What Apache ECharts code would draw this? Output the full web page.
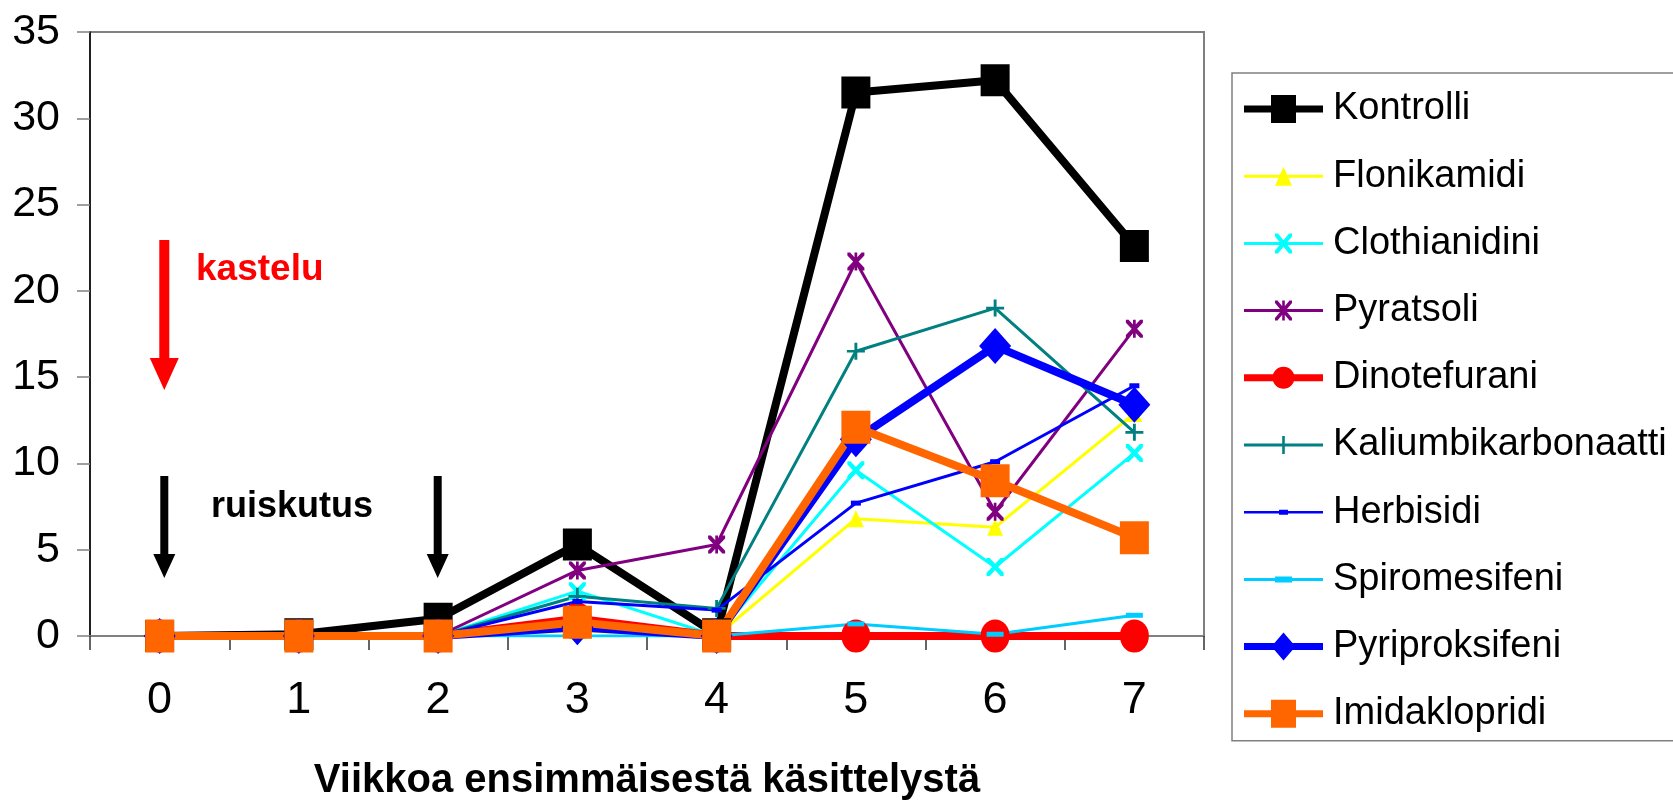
<!DOCTYPE html>
<html>
<head>
<meta charset="utf-8">
<script src="https://cdn.jsdelivr.net/npm/echarts@6/dist/echarts.min.js"></script>
<style>
  html, body { margin: 0; padding: 0; background: #fff; }
  #chart { width: 1673px; height: 800px; }
</style>
</head>
<body>
<div id="chart"></div>
<script>
// viikot ja sarjat
var weeks = ["0", "1", "2", "3", "4", "5", "6", "7"];
var kontrolli      = [0, 0.1, 1.0, 5.3, 0.1, 31.5, 32.2, 22.6];
var flonikamidi    = [0, 0, 0, 0.3, 0, 6.8, 6.3, 12.9];
var clothianidini  = [0, 0, 0, 2.6, 0, 9.6, 4.0, 10.6];
var pyratsoli      = [0, 0, 0, 3.8, 5.3, 21.7, 7.2, 17.8];
var dinotefurani   = [0, 0, 0, 1.0, 0, 0, 0, 0];
var kaliumbikarb   = [0, 0, 0, 2.3, 1.6, 16.5, 19.0, 11.8];
var herbisidi      = [0, 0, 0, 2.0, 1.5, 7.7, 10.1, 14.5];
var spiromesifeni  = [0, 0, 0, 0, 0, 0.7, 0.1, 1.2];
var pyriproksifeni = [0, 0, 0, 0.5, 0, 11.4, 16.8, 13.4];
var imidaklopridi  = [0, 0, 0, 0.8, 0, 12.1, 9.0, 5.7];

var yTicks = { min: 0, max: 35, interval: 5 };

var sans = "'Liberation Sans', Arial, sans-serif";

// apufunktiot merkkien poluille
function rect(x0, y0, x1, y1) {
	return "M" + x0 + "," + y0 + "H" + x1 + "V" + y1 + "H" + x0 + "Z";
}
function xmark(cx, cy, w, h, t) {
	var l = cx - w / 2, r = cx + w / 2, tp = cy - h / 2, b = cy + h / 2;
	return "M" + l + "," + tp + "L" + (l + t) + "," + tp + "L" + r + "," + (b - t) + "L" + r + "," + b +
		"L" + (r - t) + "," + b + "L" + l + "," + (tp + t) + "Z" +
		"M" + r + "," + tp + "L" + r + "," + (tp + t) + "L" + (l + t) + "," + b + "L" + l + "," + b +
		"L" + l + "," + (b - t) + "L" + (r - t) + "," + tp + "Z";
}
function ellipse(cx, cy, rx, ry) {
	return "M" + (cx - rx) + "," + cy + "A" + rx + "," + ry + " 0 1,1 " + (cx + rx) + "," + cy +
		"A" + rx + "," + ry + " 0 1,1 " + (cx - rx) + "," + cy + "Z";
}
function diamond(cx, cy, w, h) {
	return "M" + cx + "," + (cy - h / 2) + "L" + (cx + w / 2) + "," + cy + "L" + cx + "," + (cy + h / 2) +
		"L" + (cx - w / 2) + "," + cy + "Z";
}
function triangle(cx, cy, w, h) {
	return "M" + cx + "," + (cy - h / 2) + "L" + (cx + w / 2) + "," + (cy + h / 2) + "L" + (cx - w / 2) + "," + (cy + h / 2) + "Z";
}
// legendin ikoni: viiva + merkki, kiinteä 79x30 laatikko
var bbox = "M39.5,0L39.6,0L39.5,0.1ZM39.5,30L39.6,30L39.5,29.9Z";
function legendIcon(lw, marker) {
	return "path://" + bbox + rect(0, 15 - lw / 2, 79, 15 + lw / 2) + marker;
}

var symX = "path://" + xmark(5, 5, 10, 10, 1.8);
var symStar = "path://" + xmark(5, 5, 10, 10, 1.6) + rect(4.2, 0, 5.8, 10);
var symPlus = "path://" + rect(4.2, 0, 5.8, 10) + rect(0, 4.2, 10, 5.8);
var symEllipse = "path://" + ellipse(5, 5, 5, 5);

var series_conf = [
	{ name: "Kontrolli", data: kontrolli, color: "#000000", width: 8, symbol: "rect", size: [29, 32],
	  icon: legendIcon(7, rect(27, 1, 52, 29)) },
	{ name: "Flonikamidi", data: flonikamidi, color: "#FFFF00", width: 3, symbol: "triangle", size: [16, 17],
	  icon: legendIcon(3, triangle(39.5, 15, 17, 19)) },
	{ name: "Clothianidini", data: clothianidini, color: "#00FFFF", width: 3, symbol: symX, size: [17, 18],
	  icon: legendIcon(3, xmark(39.5, 15, 17, 20, 3)) },
	{ name: "Pyratsoli", data: pyratsoli, color: "#800080", width: 3, symbol: symStar, size: [17, 18],
	  icon: legendIcon(3, xmark(39.5, 15, 17, 20, 2.5) + rect(38.2, 5, 40.8, 25)) },
	{ name: "Dinotefurani", data: dinotefurani, color: "#FF0000", width: 8, symbol: symEllipse, size: [29, 33],
	  icon: legendIcon(7, ellipse(39.5, 15, 11, 11)) },
	{ name: "Kaliumbikarbonaatti", data: kaliumbikarb, color: "#008080", width: 3, symbol: symPlus, size: [18, 17],
	  icon: legendIcon(3, rect(38.2, 6, 40.8, 24)) },
	{ name: "Herbisidi", data: herbisidi, color: "#0000FF", width: 3, symbol: "rect", size: [10, 5],
	  icon: legendIcon(2.5, rect(35, 12.5, 44, 17.5)) },
	{ name: "Spiromesifeni", data: spiromesifeni, color: "#00CCFF", width: 3, symbol: "rect", size: [17, 5],
	  icon: legendIcon(3, rect(31, 12, 48, 18)) },
	{ name: "Pyriproksifeni", data: pyriproksifeni, color: "#0000FF", width: 8, symbol: "diamond", size: [32, 36],
	  icon: legendIcon(7, diamond(39.5, 15, 24, 28)) },
	{ name: "Imidaklopridi", data: imidaklopridi, color: "#FF6600", width: 8, symbol: "rect", size: [29, 33],
	  icon: legendIcon(7, rect(27, 1, 52, 29)) }
];

var chart = echarts.init(document.getElementById("chart"), null, { renderer: "canvas" });

var series = [];
var legend_data = [];
for (var i = 0; i < series_conf.length; i++) {
	var s = series_conf[i];
	series.push({
		name: s.name,
		type: "line",
		data: s.data,
		symbol: s.symbol,
		symbolSize: s.size,
		showAllSymbol: true,
		lineStyle: { color: s.color, width: s.width },
		itemStyle: { color: s.color, borderWidth: 0 },
		emphasis: { disabled: true }
	});
	legend_data.push({ name: s.name, icon: s.icon });
}

// nuolet ja tekstit
function arrow(cx, y0, y1, shaftW, headW, headH, color) {
	return {
		type: "polygon",
		silent: true,
		shape: { points: [
			[cx - shaftW / 2, y0], [cx + shaftW / 2, y0], [cx + shaftW / 2, y1 - headH],
			[cx + headW / 2, y1 - headH], [cx, y1], [cx - headW / 2, y1 - headH], [cx - shaftW / 2, y1 - headH]
		] },
		style: { fill: color }
	};
}

var option = {
	animation: false,
	backgroundColor: "#ffffff",
	grid: {
		left: 90, right: 469, top: 32, bottom: 164,
		outerBoundsMode: "none",
		containLabel: false,
		show: true, borderColor: "#808080", borderWidth: 2
	},
	legend: {
		orient: "vertical",
		left: 1232, top: 73,
		padding: [17, 60, 8, 12],
		itemWidth: 79, itemHeight: 30, itemGap: 29.2,
		symbolKeepAspect: true,
		borderColor: "#808080", borderWidth: 1.5,
		selectedMode: false,
		textStyle: { fontFamily: sans, fontSize: 38, color: "#000", padding: [0, 0, 0, 5] },
		data: legend_data
	},
	xAxis: {
		type: "category",
		data: weeks,
		boundaryGap: true,
		name: "Viikkoa ensimmäisestä käsittelystä",
		nameLocation: "middle",
		nameGap: 125,
		nameTextStyle: { fontFamily: sans, fontSize: 40, fontWeight: "bold", color: "#000" },
		axisLine: { lineStyle: { color: "#808080", width: 2 } },
		axisTick: { show: true, length: 14, lineStyle: { color: "#333", width: 1.5 } },
		axisLabel: { fontFamily: sans, fontSize: 45, color: "#000", margin: 42 }
	},
	yAxis: {
		type: "value",
		min: yTicks.min, max: yTicks.max, interval: yTicks.interval,
		axisLine: { show: true, lineStyle: { color: "#000", width: 1.5 } },
		axisTick: { show: true, length: 13, lineStyle: { color: "#808080", width: 1.5 } },
		splitLine: { show: false },
		axisLabel: { fontFamily: sans, fontSize: 43, color: "#000", margin: 30 }
	},
	graphic: [
		arrow(164.3, 240, 390, 10, 29, 32, "#FF0000"),
		arrow(164.3, 476, 578, 8, 22, 24, "#000000"),
		arrow(437.7, 476, 578, 8, 22, 24, "#000000"),
		{ type: "text", silent: true, x: 196, y: 270,
		  style: { text: "kastelu", fill: "#FF0000", font: "bold 37px " + sans, verticalAlign: "middle", textVerticalAlign: "middle" } },
		{ type: "text", silent: true, x: 211, y: 507,
		  style: { text: "ruiskutus", fill: "#000000", font: "bold 36px " + sans, verticalAlign: "middle", textVerticalAlign: "middle" } }
	],
	series: series
};

chart.setOption(option, true);
window.onresize = function () {
	chart.resize();
};
</script>
</body>
</html>
